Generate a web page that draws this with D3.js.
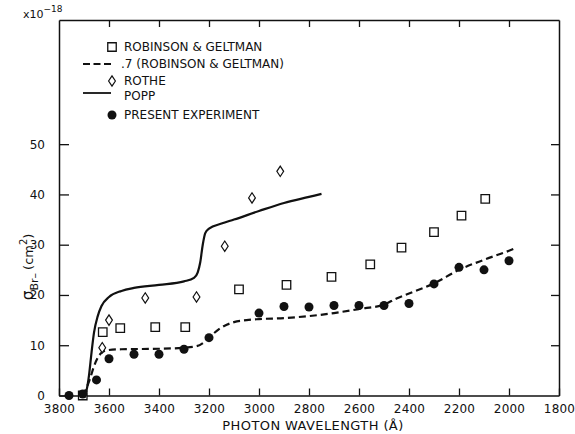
<!DOCTYPE html>
<html>
<head>
<meta charset="utf-8">
<script src="https://cdn.jsdelivr.net/npm/d3@7"></script>
<style>
  body { margin: 0; background: #fff; }
  text { font-family: "DejaVu Sans", sans-serif; fill: #111; }
</style>
</head>
<body>
<div id="vis"></div>
<script>
// wavelength (A) / cross section (1e-18 cm^2)
var presentLambda = [3760, 3705, 3650, 3600, 3500, 3400, 3300, 3200, 3000, 2900, 2800, 2700, 2600, 2500, 2400, 2300, 2200, 2100, 2000];
var presentSigma  = [0, 0.3, 3.1, 7.3, 8.2, 8.2, 9.2, 11.5, 16.4, 17.7, 17.6, 17.9, 17.9, 17.9, 18.3, 22.2, 25.5, 25.0, 26.8];

var rgLambda = [3705, 3625, 3555, 3415, 3295, 3080, 2890, 2710, 2555, 2430, 2300, 2190, 2095];
var rgSigma  = [0, 12.6, 13.4, 13.6, 13.6, 21.1, 22.0, 23.6, 26.1, 29.4, 32.5, 35.8, 39.1];

var rotheLambda = [3627, 3600, 3455, 3250, 3137, 3028, 2915];
var rotheSigma  = [9.5, 15.0, 19.4, 19.6, 29.7, 39.3, 44.6];

var poppLambda = [3700, 3690, 3680, 3670, 3660, 3645, 3630, 3600, 3550, 3500, 3400, 3300, 3260, 3245, 3235, 3225, 3215, 3200, 3150, 3100, 3000, 2900, 2800, 2750];
var poppSigma  = [0, 1, 4, 8.5, 12.5, 15.8, 17.8, 19.6, 20.8, 21.4, 22.0, 22.7, 23.4, 24.5, 26.5, 30, 32.3, 33.2, 34.2, 35, 36.7, 38.3, 39.5, 40.1];

var rg7Lambda = [3705, 3690, 3675, 3660, 3645, 3630, 3610, 3550, 3400, 3300, 3250, 3220, 3200, 3160, 3100, 3050, 3000, 2900, 2800, 2700, 2600, 2500, 2450, 2400, 2300, 2200, 2100, 2000, 1980];
var rg7Sigma  = [0, 1.5, 3.5, 5.8, 7.5, 8.5, 9.0, 9.2, 9.3, 9.5, 9.8, 10.6, 11.5, 13.2, 14.6, 15.0, 15.2, 15.4, 15.8, 16.4, 17.2, 18.1, 19.3, 20.3, 22.3, 25.0, 27.0, 28.8, 29.2];

var xTicks = [3800, 3600, 3400, 3200, 3000, 2800, 2600, 2400, 2200, 2000, 1800];
var yTicks = [0, 10, 20, 30, 40, 50];

var legendItems = ["ROBINSON & GELTMAN", ".7 (ROBINSON & GELTMAN)", "ROTHE", "POPP", "PRESENT EXPERIMENT"];

function zip(a, b) { return a.map(function (d, i) { return [d, b[i]]; }); }

var width = 575, height = 434;
var margin = { top: 20, right: 16, bottom: 38.5, left: 59 };
var yMax = 74.7;

var svg = d3.select("#vis").append("svg")
    .attr("width", width)
    .attr("height", height);

var xs = d3.scaleLinear().domain([3800, 1800]).range([margin.left, width - margin.right]);
var ys = d3.scaleLinear().domain([0, yMax]).range([height - margin.bottom, margin.top]);

var ink = "#111";

// frame = domain lines of the four axes
function styleAxis(g) {
    g.select(".domain").attr("stroke", ink).attr("stroke-width", 1.5);
    g.selectAll(".tick line").attr("stroke", ink).attr("stroke-width", 1.3);
}

var xAxisB = svg.append("g")
    .attr("transform", "translate(0," + ys(0) + ")")
    .call(d3.axisBottom(xs).tickValues(xTicks).tickSize(-7).tickSizeOuter(0).tickPadding(6).tickFormat(d3.format("d")))
    .call(styleAxis);
xAxisB.selectAll("text").attr("font-size", "12px").attr("fill", ink).attr("dy", "0.95em")
    .attr("font-family", "DejaVu Sans").style("letter-spacing", "0.2px");

var xAxisT = svg.append("g")
    .attr("transform", "translate(0," + ys(yMax) + ")")
    .call(d3.axisTop(xs).tickValues(xTicks.slice(1, -1)).tickSize(-7).tickSizeOuter(0).tickFormat(""))
    .call(styleAxis);

var yAxisL = svg.append("g")
    .attr("transform", "translate(" + xs(3800) + ",0)")
    .call(d3.axisLeft(ys).tickValues(yTicks).tickSize(-10).tickSizeOuter(0).tickPadding(14))
    .call(styleAxis);
yAxisL.selectAll("text").attr("font-size", "12px").attr("fill", ink).attr("font-family", "DejaVu Sans");

var yAxisR = svg.append("g")
    .attr("transform", "translate(" + xs(1800) + ",0)")
    .call(d3.axisRight(ys).tickValues(yTicks.slice(1)).tickSize(-8).tickSizeOuter(0).tickFormat(""))
    .call(styleAxis);

// curves
var line = d3.line()
    .x(function (d) { return xs(d[0]); })
    .y(function (d) { return ys(d[1]); })
    .curve(d3.curveMonotoneX);

svg.append("path")
    .datum(zip(poppLambda, poppSigma))
    .attr("d", line)
    .attr("fill", "none").attr("stroke", ink).attr("stroke-width", 2.2);

svg.append("path")
    .datum(zip(rg7Lambda, rg7Sigma))
    .attr("d", line)
    .attr("fill", "none").attr("stroke", ink).attr("stroke-width", 2.2)
    .attr("stroke-dasharray", "7,4");

// markers
var square = d3.symbol().type(d3.symbolSquare).size(72);

function diamond(w, h) {
    return "M0," + (-h) + "L" + w + ",0L0," + h + "L" + (-w) + ",0Z";
}

svg.append("g").selectAll("path")
    .data(zip(rgLambda, rgSigma))
    .enter().append("path")
    .attr("transform", function (d) { return "translate(" + xs(d[0]) + "," + ys(d[1]) + ")"; })
    .attr("d", square())
    .attr("fill", "#fff").attr("stroke", ink).attr("stroke-width", 1.3);

svg.append("g").selectAll("path")
    .data(zip(rotheLambda, rotheSigma))
    .enter().append("path")
    .attr("transform", function (d) { return "translate(" + xs(d[0]) + "," + ys(d[1]) + ")"; })
    .attr("d", diamond(3.4, 5.2))
    .attr("fill", "#fff").attr("stroke", ink).attr("stroke-width", 1.2);

svg.append("g").selectAll("circle")
    .data(zip(presentLambda, presentSigma))
    .enter().append("circle")
    .attr("cx", function (d) { return xs(d[0]); })
    .attr("cy", function (d) { return ys(d[1]); })
    .attr("r", 4.5)
    .attr("fill", ink);

// legend
var legend = svg.append("g").attr("font-size", "12px");
var lgY = [47, 64, 81, 96, 115];
var lgTextX = [124, 121, 124, 124, 124];

legend.append("path").attr("d", square())
    .attr("transform", "translate(112," + lgY[0] + ")")
    .attr("fill", "#fff").attr("stroke", ink).attr("stroke-width", 1.3);
legend.append("line")
    .attr("x1", 83).attr("x2", 111).attr("y1", lgY[1]).attr("y2", lgY[1])
    .attr("stroke", ink).attr("stroke-width", 2.2).attr("stroke-dasharray", "7,3.5");
legend.append("path").attr("d", diamond(3.4, 5.2))
    .attr("transform", "translate(112," + lgY[2] + ")")
    .attr("fill", "#fff").attr("stroke", ink).attr("stroke-width", 1.2);
legend.append("line")
    .attr("x1", 83).attr("x2", 111).attr("y1", 93).attr("y2", 93)
    .attr("stroke", ink).attr("stroke-width", 1.8);
legend.append("circle").attr("cx", 112).attr("cy", lgY[4]).attr("r", 4.5).attr("fill", ink);

legend.selectAll("text.lg")
    .data(legendItems)
    .enter().append("text")
    .attr("class", "lg")
    .attr("x", function (d, i) { return lgTextX[i]; })
    .attr("y", function (d, i) { return lgY[i]; })
    .attr("dy", "0.36em")
    .text(function (d) { return d; });

// axis titles
svg.append("text")
    .attr("x", 313).attr("y", 430)
    .attr("text-anchor", "middle")
    .attr("font-size", "13px")
    .style("letter-spacing", "0.4px")
    .text("PHOTON WAVELENGTH (Å)");

var ylab = svg.append("text")
    .attr("transform", "translate(33,300) rotate(-90)")
    .attr("font-size", "13px");
ylab.append("tspan").attr("font-size", "15px").text("σ");
ylab.append("tspan").attr("font-size", "11px").attr("dy", "5").text("Br–");
ylab.append("tspan").attr("dy", "-5").attr("dx", "3").text("(cm");
ylab.append("tspan").attr("font-size", "10px").attr("dy", "-6").text("2");
ylab.append("tspan").attr("dy", "6").text(")");

var unitLabel = svg.append("text")
    .attr("x", 23).attr("y", 18)
    .attr("font-size", "11px");
unitLabel.append("tspan").text("x10");
unitLabel.append("tspan").attr("font-size", "9px").attr("dy", "-6").text("−18");
</script>
</body>
</html>
